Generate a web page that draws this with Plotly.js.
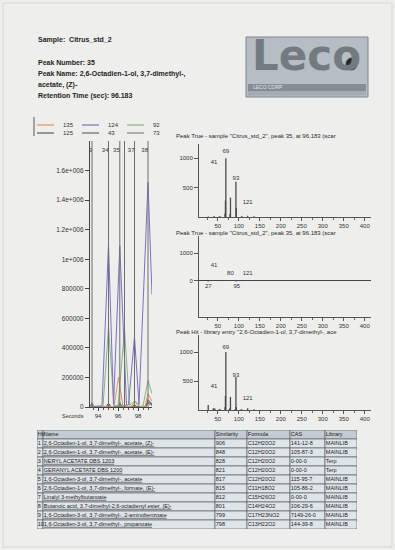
<!DOCTYPE html>
<html><head><meta charset="utf-8">
<script src="https://cdn.plot.ly/plotly-3.0.1.min.js"></script>
<style>html,body{margin:0;padding:0;background:#eeeeec;}</style>
</head><body>
<div id="chart" style="width:395px;height:550px;"></div>
<script>
// ---------------- data ----------------
const sampleName = 'Citrus_std_2';
const peakNumber = 35;
const peakNameLine1 = '2,6-Octadien-1-ol, 3,7-dimethyl-,';
const peakNameLine2 = 'acetate, (Z)-';
const retentionTime = '96.183';

// chromatogram: retention time (s) and intensity per ion trace
const t124 = [93.2, 93.4, 93.6, 94.4, 95.05, 95.55, 96.18, 96.85, 97.05, 97.65, 98.1, 99.0, 99.4];
const i124 = [5000, 30000, 4000, 8000, 1100000, 15000, 1090000, 12000, 15000, 475000, 18000, 1520000, 760000];
const t92 = [93.2, 93.4, 93.6, 94.5, 95.05, 95.6, 96.0, 96.65, 97.15, 97.65, 98.1, 98.5, 99.0, 99.4];
const i92 = [3000, 22000, 3000, 4000, 540000, 10000, 8000, 520000, 10000, 40000, 5000, 6000, 180000, 90000];
const t135 = [93.2, 95.6, 96.05, 96.5, 97.3, 97.75, 98.2, 98.7, 99.0, 99.4];
const i135 = [2000, 3000, 200000, 5000, 3000, 40000, 3000, 5000, 90000, 40000];
const t125 = [93.2, 93.4, 93.6, 94.8, 95.05, 95.3, 96.0, 96.18, 96.4, 97.4, 97.65, 97.9, 98.8, 99.0, 99.4];
const i125 = [1500, 12000, 1500, 2000, 25000, 2000, 2000, 30000, 2000, 2000, 15000, 2000, 3000, 50000, 20000];
const t43 = [93.2, 93.4, 93.6, 94.8, 95.05, 95.3, 96.0, 96.18, 96.4, 97.4, 97.65, 97.9, 98.8, 99.0, 99.4];
const i43 = [1000, 8000, 1000, 1500, 18000, 1500, 1500, 20000, 1500, 1500, 10000, 1500, 2000, 35000, 15000];
const t73 = [93.2, 93.4, 93.6, 94.8, 95.05, 95.3, 96.4, 96.65, 96.9, 97.4, 97.65, 97.9, 98.8, 99.0, 99.4];
const i73 = [800, 6000, 800, 1000, 12000, 1000, 1000, 15000, 1000, 1000, 8000, 1000, 1500, 25000, 10000];

const peakTimes = [93.4, 95.05, 96.18, 96.65, 97.65, 99.0];
const peakLabels = ['33', '34', '35', '', '37', '38'];
const chromYTicks = [0, 200000, 400000, 600000, 800000, 1000000, 1200000, 1400000, 1600000];
const chromYTickText = ['0', '200000', '400000', '600000', '800000', '1e+006', '1.2e+006', '1.4e+006', '1.6e+006'];
const chromXTicks = [94, 96, 98];

const legendTop = ['135', '124', '92'];
const legendBottom = ['125', '43', '73'];

// mass spectra (m/z, intensity)
const trueMz = [27, 41, 53, 55, 67, 68, 69, 79, 80, 93, 94, 107, 121, 136];
const trueInt = [10, 15, 10, 12, 60, 280, 999, 50, 330, 600, 150, 15, 20, 12];
const trueLabelMz = [41, 69, 93, 121];
const trueLabelY = [920, 1110, 660, 250];

const resMz = [27, 41, 69, 80, 93, 95, 121];
const resInt = [-20, 25, 8, 10, -6, -12, 6];
const resLabelMz = [41, 80, 121, 27, 95];
const resLabelY = [570, 250, 250, -190, -190];

const hitMz = [27, 39, 41, 43, 53, 55, 67, 68, 69, 77, 79, 80, 91, 93, 94, 105, 107, 121, 136];
const hitInt = [86, 25, 30, 20, 12, 18, 50, 240, 999, 12, 35, 225, 18, 570, 50, 8, 12, 30, 14];
const hitLabelMz = [41, 69, 93, 121];
const hitLabelY = [400, 1070, 600, 190];

const specTicks = [50, 100, 150, 200, 250, 300, 350, 400];

// library hit table
const tableHeader = ['Hit', 'Name', 'Similarity', 'Formula', 'CAS', 'Library'];
const hitNo = ['1', '2', '3', '4', '5', '6', '7', '8', '9', '10'];
const hitName = [
  '2,6-Octadien-1-ol, 3,7-dimethyl-, acetate, (Z)-',
  '2,6-Octadien-1-ol, 3,7-dimethyl-, acetate, (E)-',
  'NERYL ACETATE DBS 1203',
  'GERANYL ACETATE DBS 1200',
  '1,6-Octadien-3-ol, 3,7-dimethyl-, acetate',
  '2,6-Octadien-1-ol, 3,7-dimethyl-, formate, (E)-',
  'Linalyl 3-methylbutanoate',
  'Butanoic acid, 3,7-dimethyl-2,6-octadienyl ester, (E)-',
  '1,6-Octadien-3-ol, 3,7-dimethyl-, 2-aminobenzoate',
  '1,6-Octadien-3-ol, 3,7-dimethyl-, propanoate'
];
const hitSimilarity = ['906', '848', '828', '821', '817', '815', '812', '801', '799', '798'];
const hitFormula = ['C12H20O2', 'C12H20O2', 'C12H20O2', 'C12H20O2', 'C12H20O2', 'C11H18O2', 'C15H26O2', 'C14H24O2', 'C17H23NO2', 'C13H22O2'];
const hitCas = ['141-12-8', '105-87-3', '0-00-0', '0-00-0', '115-95-7', '105-86-2', '0-00-0', '106-29-6', '7149-26-0', '144-39-8'];
const hitLibrary = ['MAINLIB', 'MAINLIB', 'Terp', 'Terp', 'MAINLIB', 'MAINLIB', 'MAINLIB', 'MAINLIB', 'MAINLIB', 'MAINLIB'];
const colWidths = [6, 172, 32, 43, 35, 32];

// ---------------- helpers ----------------
const W = 395, H = 550;
const px = x => x / W;
const py = y => 1 - y / H;
const FONT = 'Arial, "Liberation Sans", sans-serif';

function stems(mz, val) {
  const x = [], y = [];
  mz.forEach((m, k) => { x.push(m, m, null); y.push(0, val[k], null); });
  return { x, y };
}

const traces = [];
const chromColors = { '135': '#e2955a', '124': '#7f6fc0', '92': '#86b486', '125': '#5c5c5c', '43': '#6a6a6a', '73': '#808080' };
const chromData = [
  ['125', t125, i125], ['43', t43, i43], ['73', t73, i73],
  ['135', t135, i135], ['92', t92, i92], ['124', t124, i124]
];
chromData.forEach(([name, t, v]) => {
  traces.push({ type: 'scatter', mode: 'lines', name: name, x: t, y: v, xaxis: 'x', yaxis: 'y',
    line: { color: chromColors[name], width: 1 }, showlegend: false, hoverinfo: 'skip' });
});

// peak markers
const markX = [], markY = [];
peakTimes.forEach(t => { markX.push(t, t, null); markY.push(0, 1800000, null); });
traces.push({ type: 'scatter', mode: 'lines', x: markX, y: markY, xaxis: 'x', yaxis: 'y',
  line: { color: '#6e6e6e', width: 1 }, showlegend: false, hoverinfo: 'skip' });
traces.push({ type: 'scatter', mode: 'text', x: peakTimes, y: peakTimes.map(() => 1735000), text: peakLabels,
  textposition: 'middle left', textfont: { family: FONT, size: 6, color: '#333' }, cliponaxis: true,
  xaxis: 'x', yaxis: 'y', showlegend: false, hoverinfo: 'skip' });

// spectra
const specSets = [
  [trueMz, trueInt, trueLabelMz, trueLabelY, '2'],
  [resMz, resInt, resLabelMz, resLabelY, '3'],
  [hitMz, hitInt, hitLabelMz, hitLabelY, '4']
];
specSets.forEach(([mz, v, lm, ly, ax]) => {
  const s = stems(mz, v);
  traces.push({ type: 'scatter', mode: 'lines', x: s.x, y: s.y, xaxis: 'x' + ax, yaxis: 'y' + ax,
    line: { color: '#4a4a4a', width: 1.3 }, showlegend: false, hoverinfo: 'skip' });
  traces.push({ type: 'scatter', mode: 'text', x: lm, y: ly, text: lm.map(String), textposition: 'middle center',
    textfont: { family: FONT, size: 6, color: '#333' }, cliponaxis: false,
    xaxis: 'x' + ax, yaxis: 'y' + ax, showlegend: false, hoverinfo: 'skip' });
});

// table grid (axis x5/y5: x in column units, y in row index)
const colStarts = [];
colWidths.reduce((acc, w) => { colStarts.push(acc); return acc + w; }, 0);
const tableCols = [hitNo, hitName.map(n => '<u>' + n + '</u>'), hitSimilarity, hitFormula, hitCas, hitLibrary];
const shapes = [];
colWidths.forEach((w, c) => {
  for (let r = 0; r <= hitNo.length; r++) {
    shapes.push({ type: 'rect', xref: 'x5', yref: 'y5', x0: colStarts[c], x1: colStarts[c] + w, y0: r, y1: r + 1,
      fillcolor: r === 0 ? '#c4cbd2' : '#dfe4e9', line: { color: '#5b6168', width: 0.7 }, layer: 'below' });
  }
  traces.push({ type: 'scatter', mode: 'text', x: [colStarts[c] + 0.8], y: [0.5], text: [tableHeader[c]],
    textposition: 'middle right', textfont: { family: FONT, size: 5.5, color: '#1c1c1c' }, cliponaxis: false,
    xaxis: 'x5', yaxis: 'y5', showlegend: false, hoverinfo: 'skip' });
  traces.push({ type: 'scatter', mode: 'text', x: tableCols[c].map(() => colStarts[c] + 0.8),
    y: tableCols[c].map((_, r) => r + 1.5), text: tableCols[c],
    textposition: 'middle right', textfont: { family: FONT, size: 5.5, color: '#1c1c1c' }, cliponaxis: false,
    xaxis: 'x5', yaxis: 'y5', showlegend: false, hoverinfo: 'skip' });
});

// page frame
shapes.push({ type: 'rect', xref: 'paper', yref: 'paper', x0: px(3), x1: px(392), y0: py(547), y1: py(3),
  line: { color: '#d6d6d4', width: 1 }, fillcolor: 'rgba(0,0,0,0)', layer: 'below' });

// logo
shapes.push({ type: 'rect', xref: 'paper', yref: 'paper', x0: px(246), x1: px(368), y0: py(97), y1: py(37),
  fillcolor: '#b6bec4', line: { color: '#7f878d', width: 1 } });
shapes.push({ type: 'rect', xref: 'paper', yref: 'paper', x0: px(248), x1: px(366), y0: py(91), y1: py(84),
  fillcolor: '#858d93', line: { width: 0 } });
shapes.push({ type: 'rect', xref: 'paper', yref: 'paper', x0: px(248), x1: px(366), y0: py(95.5), y1: py(91),
  fillcolor: '#a4acb2', line: { width: 0 } });
shapes.push({ type: 'circle', xref: 'paper', yref: 'paper', x0: px(346), x1: px(357), y0: py(70), y1: py(58),
  fillcolor: '#2d2224', line: { color: '#4d3a3c', width: 1 } });

// legend of chromatogram (manual)
const legX = [37, 82, 127];
shapes.push({ type: 'line', xref: 'paper', yref: 'paper', x0: px(34), x1: px(34), y0: py(136), y1: py(117),
  line: { color: '#8a8a8a', width: 1.5 } });
const annotations = [];
legX.forEach((lx, k) => {
  shapes.push({ type: 'line', xref: 'paper', yref: 'paper', x0: px(lx), x1: px(lx + 17), y0: py(125), y1: py(125),
    line: { color: chromColors[legendTop[k]], width: 1.2 } });
  shapes.push({ type: 'line', xref: 'paper', yref: 'paper', x0: px(lx), x1: px(lx + 17), y0: py(133), y1: py(133),
    line: { color: chromColors[legendBottom[k]], width: 1.2 } });
  annotations.push({ xref: 'paper', yref: 'paper', x: px(lx + 24), y: py(125), xanchor: 'left', yanchor: 'middle',
    text: legendTop[k], showarrow: false, font: { family: FONT, size: 6, color: '#333' } });
  annotations.push({ xref: 'paper', yref: 'paper', x: px(lx + 24), y: py(132.5), xanchor: 'left', yanchor: 'middle',
    text: legendBottom[k], showarrow: false, font: { family: FONT, size: 6, color: '#333' } });
});

// header texts
const headerLines = [
  ['Sample:  ' + sampleName, 40],
  ['Peak Number: ' + peakNumber, 63],
  ['Peak Name: ' + peakNameLine1, 74],
  [peakNameLine2, 85],
  ['Retention Time (sec): ' + retentionTime, 96]
];
headerLines.forEach(([txt, y]) => {
  annotations.push({ xref: 'paper', yref: 'paper', x: px(36), y: py(y), xanchor: 'left', yanchor: 'middle',
    text: txt, showarrow: false, font: { family: FONT, size: 7, color: '#1e1e1e', weight: 'bold' } });
});
annotations.push({ xref: 'paper', yref: 'paper', x: px(306), y: py(56), xanchor: 'center', yanchor: 'middle',
  text: 'Leco', showarrow: false, font: { family: '"DejaVu Sans", sans-serif', size: 42, color: '#737b81', weight: 'bold' } });
annotations.push({ xref: 'paper', yref: 'paper', x: px(251), y: py(87.5), xanchor: 'left', yanchor: 'middle',
  text: 'LECO CORP', showarrow: false, font: { family: FONT, size: 5, color: '#dfe3e6' } });
annotations.push({ xref: 'paper', yref: 'paper', x: px(86), y: py(415.5), xanchor: 'right', yanchor: 'middle',
  text: 'Seconds', showarrow: false, font: { family: FONT, size: 5.5, color: '#333' } });

// spectrum titles
const specTitles = [
  ['Peak True - sample "Citrus_std_2", peak 35, at 96.183 (scar', 136],
  ['Peak True - sample "Citrus_std_2", peak 35, at 96.183 (scar', 233],
  ['Peak Hit - library entry "2,6-Octadien-1-ol, 3,7-dimethyl-, ace', 332]
];
specTitles.forEach(([txt, y]) => {
  annotations.push({ xref: 'paper', yref: 'paper', x: px(174), y: py(y), xanchor: 'left', yanchor: 'middle',
    text: txt, showarrow: false, font: { family: FONT, size: 6, color: '#2a2a2a' } });
});

// ---------------- axes ----------------
const tickFont = { family: FONT, size: 6, color: '#333' };
function specX(anchor) {
  return { domain: [px(199), px(371)], range: [5, 415], anchor: anchor, tickvals: specTicks, ticks: 'outside',
    ticklen: 3, tickcolor: '#555', showline: true, linecolor: '#555', linewidth: 1, showgrid: false, zeroline: false,
    tickfont: tickFont, minor: { dtick: 25, tick0: 0, ticks: 'outside', ticklen: 2, tickcolor: '#666' } };
}
function specY(anchor, top, bottom, range, vals) {
  return { domain: [py(bottom), py(top)], range: range, anchor: anchor, tickvals: vals, ticks: 'outside', ticklen: 4,
    tickcolor: '#555', showline: true, linecolor: '#555', linewidth: 1, showgrid: false, zeroline: false, tickfont: tickFont };
}

const layout = {
  width: W, height: H, margin: { l: 0, r: 0, t: 0, b: 0 },
  paper_bgcolor: '#eeeeec', plot_bgcolor: 'rgba(0,0,0,0)', showlegend: false,
  font: { family: FONT, size: 6, color: '#333' },
  xaxis: { domain: [px(90), px(152)], range: [93.2, 99.4], anchor: 'y', tickvals: chromXTicks, ticks: 'outside',
    ticklen: 3, tickcolor: '#444', showline: true, linecolor: '#444', linewidth: 1, showgrid: false, zeroline: false,
    tickfont: tickFont, minor: { dtick: 0.5, tick0: 0, ticks: 'outside', ticklen: 2, tickcolor: '#555' } },
  yaxis: { domain: [py(407), py(141)], range: [0, 1800000], anchor: 'x', tickvals: chromYTicks, ticktext: chromYTickText,
    ticks: 'outside', ticklen: 4, tickcolor: '#444', showline: true, linecolor: '#444', linewidth: 1.2, showgrid: false,
    zeroline: false, tickfont: { family: FONT, size: 6.5, color: '#333' } },
  xaxis2: specX('y2'), yaxis2: specY('x2', 144, 217, [0, 1240], [500, 1000]),
  xaxis3: specX('y3'), yaxis3: Object.assign(specY('x3', 236, 317, [-1286, 1607], [0, 1000]),
    { zeroline: true, zerolinecolor: '#444', zerolinewidth: 1 }),
  xaxis4: specX('y4'), yaxis4: specY('x4', 335, 410, [0, 1293], [500, 1000]),
  xaxis5: { domain: [px(37), px(357)], range: [0, 320], anchor: 'y5', visible: false, fixedrange: true },
  yaxis5: { domain: [py(529), py(430)], range: [11, 0], anchor: 'x5', visible: false, fixedrange: true },
  shapes: shapes, annotations: annotations
};

Plotly.newPlot('chart', traces, layout, { staticPlot: true, displayModeBar: false });
</script>
</body></html>
